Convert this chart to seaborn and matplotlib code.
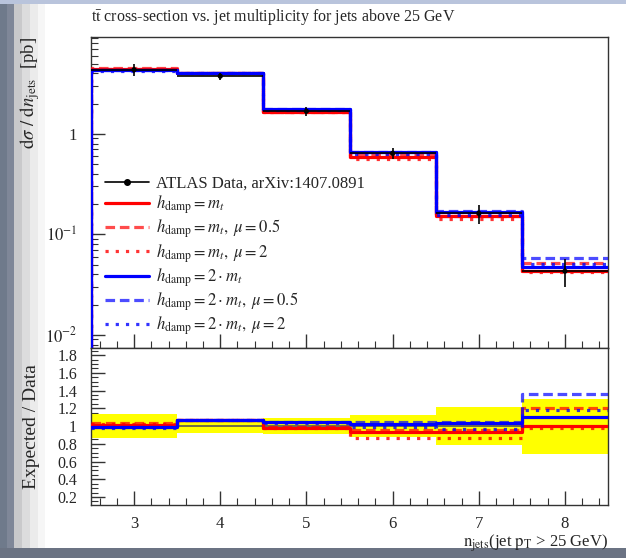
import matplotlib
matplotlib.use("Agg")
import matplotlib.pyplot as plt
from matplotlib.lines import Line2D
from matplotlib.patches import Rectangle
from matplotlib.ticker import MultipleLocator, LogLocator, FixedLocator, NullFormatter
import numpy as np
import pandas as pd
import seaborn as sns

# ── Data ─────────────────────────────────────────────────────────────────────
bin_edges = [2.5, 3.5, 4.5, 5.5, 6.5, 7.5, 8.5]
n_jets = [3, 4, 5, 6, 7, 8]

data_xsec = [4.35, 3.75, 1.68, 0.64, 0.162, 0.043]
data_relerr = [0.14, 0.075, 0.095, 0.125, 0.21, 0.31]

mc_hdamp_mt = [4.39, 3.99, 1.65, 0.595, 0.151, 0.043]
mc_hdamp_mt_mu05 = [4.48, 3.99, 1.66, 0.611, 0.154, 0.0516]
mc_hdamp_mt_mu2 = [4.44, 3.99, 1.65, 0.557, 0.141, 0.0421]
mc_hdamp_2mt = [4.31, 4.01, 1.75, 0.653, 0.167, 0.0475]
mc_hdamp_2mt_mu05 = [4.31, 4.01, 1.76, 0.666, 0.169, 0.0585]
mc_hdamp_2mt_mu2 = [4.26, 4.01, 1.73, 0.634, 0.156, 0.0507]

mc_labels = [
    r"$h_{\mathrm{damp}} = m_t$",
    r"$h_{\mathrm{damp}} = m_t,\ \mu = 0.5$",
    r"$h_{\mathrm{damp}} = m_t,\ \mu = 2$",
    r"$h_{\mathrm{damp}} = 2 \cdot m_t$",
    r"$h_{\mathrm{damp}} = 2 \cdot m_t,\ \mu = 0.5$",
    r"$h_{\mathrm{damp}} = 2 \cdot m_t,\ \mu = 2$",
]
mc_values = [mc_hdamp_mt, mc_hdamp_mt_mu05, mc_hdamp_mt_mu2,
             mc_hdamp_2mt, mc_hdamp_2mt_mu05, mc_hdamp_2mt_mu2]

data_label = "ATLAS Data, arXiv:1407.0891"
title = r"t$\bar{\mathrm{t}}$ cross-section vs. jet multiplicity for jets above 25 GeV"

# ── Style ────────────────────────────────────────────────────────────────────
sns.set_style("white")
plt.rcParams.update({
    "font.family": ["Liberation Serif", "DejaVu Serif"],
    "mathtext.fontset": "stix",
    "axes.edgecolor": "#333333",
    "axes.linewidth": 1.0,
})

RED, BLUE = "#ff0000", "#0000ff"
STYLES = [
    (RED, "-", 1.0), (RED, (0, (3, 1.5)), 0.7), (RED, (0, (1, 2.2)), 0.8),
    (BLUE, "-", 1.0), (BLUE, (0, (3, 1.5)), 0.7), (BLUE, (0, (1, 2.2)), 0.8),
]
LW = 2.3

W, H = 626, 558
fig = plt.figure(figsize=(W / 100, H / 100), dpi=100)
fig.patch.set_facecolor("white")

# slide-like frame around the plot
for x0, w, c in [(0, 7, "#6f7a8b"), (7, 7, "#7f8798"), (14, 8, "#c9c9cb"),
                 (22, 8, "#dcdcdd"), (30, 8, "#ebebeb"), (38, 7, "#f6f6f6")]:
    fig.add_artist(Rectangle((x0 / W, 0), w / W, 1, transform=fig.transFigure,
                             color=c, lw=0, zorder=-10))
fig.add_artist(Rectangle((0, 1 - 4 / H), 1, 4 / H, transform=fig.transFigure,
                         color="#b9c4dc", lw=0, zorder=-9))
fig.add_artist(Rectangle((0, 0), 1, 10 / H, transform=fig.transFigure,
                         color="#6b7383", lw=0, zorder=-9))

left, right = 91 / W, 608 / W
top, mid, bot = 1 - 37 / H, 1 - 348 / H, 1 - 505 / H
ax = fig.add_axes([left, mid, right - left, top - mid])
rax = fig.add_axes([left, bot, right - left, mid - bot], sharex=ax)

ylo, yhi = 0.0074, 9.2
ax.set_yscale("log")

# ── Main panel ──────────────────────────────────────────────────────────────
for vals, (c, ls, a) in zip(mc_values, STYLES):
    df = pd.DataFrame({"x": [bin_edges[0]] + bin_edges,
                       "y": [ylo] + vals + [vals[-1]]})
    sns.lineplot(data=df, x="x", y="y", ax=ax, color=c, linestyle=ls, alpha=a,
                 lw=LW, drawstyle="steps-post", estimator=None, sort=False,
                 legend=False, zorder=3)

yerr = np.array(data_xsec) * np.array(data_relerr)
ax.errorbar(n_jets, data_xsec, yerr=yerr, xerr=0.5, fmt="none",
            ecolor="black", elinewidth=1.2, zorder=4)
sns.scatterplot(x=n_jets, y=data_xsec, ax=ax, color="black", s=14,
                edgecolor="none", zorder=5, legend=False)

ax.set_xlim(bin_edges[0], bin_edges[-1])
ax.set_ylim(ylo, yhi)
ax.yaxis.set_major_locator(FixedLocator([0.01, 0.1, 1]))
ax.set_yticklabels([r"$10^{-2}$", r"$10^{-1}$", "1"])
ax.yaxis.set_minor_locator(LogLocator(base=10, subs=np.arange(2, 10)))
ax.yaxis.set_minor_formatter(NullFormatter())
ax.tick_params(axis="x", labelbottom=False)
ax.set_ylabel(r"$\mathrm{d}\sigma\ /\ \mathrm{d}n_{\mathrm{jets}}$  [pb]",
              fontsize=13.5, loc="top")
ax.yaxis.set_label_coords(-0.095, 1.0)

handles = [Line2D([], [], color="black", lw=1.2, marker="o", ms=4)]
for c, ls, a in STYLES:
    handles.append(Line2D([], [], color=c, linestyle=ls, alpha=a, lw=LW))
ax.legend(handles, [data_label] + mc_labels, loc="upper left",
          bbox_to_anchor=(0.015, 0.575), frameon=False, fontsize=12,
          handlelength=2.6, handletextpad=0.45, labelspacing=0.1,
          borderaxespad=0)

# ── Ratio panel ─────────────────────────────────────────────────────────────
rel = np.array(data_relerr + [data_relerr[-1]])
rax.fill_between(bin_edges, 1 - rel, 1 + rel, step="post",
                 color="#ffff00", lw=0, zorder=1)
rax.plot(bin_edges, [1] * len(bin_edges), drawstyle="steps-post",
         color="#555555", lw=1.2, zorder=2)

for vals, (c, ls, a) in zip(mc_values, STYLES):
    ratio = [m / d for m, d in zip(vals, data_xsec)]
    df = pd.DataFrame({"x": bin_edges, "y": ratio + [ratio[-1]]})
    sns.lineplot(data=df, x="x", y="y", ax=rax, color=c, linestyle=ls, alpha=a,
                 lw=LW, drawstyle="steps-post", estimator=None, sort=False,
                 legend=False, zorder=3)

rax.set_ylim(0.11, 1.88)
rax.yaxis.set_minor_locator(MultipleLocator(0.05))
rax.set_yticks([0.2, 0.4, 0.6, 0.8, 1.0, 1.2, 1.4, 1.6, 1.8])
rax.set_yticklabels(["0.2", "0.4", "0.6", "0.8", "1", "1.2", "1.4", "1.6", "1.8"])
rax.set_xticks(n_jets)
rax.set_xticklabels([str(n) for n in n_jets])
rax.xaxis.set_minor_locator(MultipleLocator(0.2))
rax.set_ylabel("Expected / Data", fontsize=14)
rax.yaxis.set_label_coords(-0.098, 0.5)
rax.set_xlabel(r"$\mathrm{n_{jets}}$(jet $\mathrm{p_T}$ > 25 GeV)",
               fontsize=12, loc="right", labelpad=0)

for a_ in (ax, rax):
    a_.tick_params(which="both", direction="in", top=False, right=False,
                   left=True, bottom=True, labelsize=12, color="#333333")
    a_.tick_params(which="major", length=10, width=1)
    a_.tick_params(which="minor", length=5, width=0.8)
ax.tick_params(axis="y", pad=10)
rax.tick_params(axis="x", pad=8)
rax.tick_params(axis="y", labelsize=11.5, pad=10)

fig.text(left, 1 - 17 / H, title, ha="left", va="center", fontsize=11.5)

fig.savefig("out.png", dpi=100, facecolor=fig.get_facecolor())
